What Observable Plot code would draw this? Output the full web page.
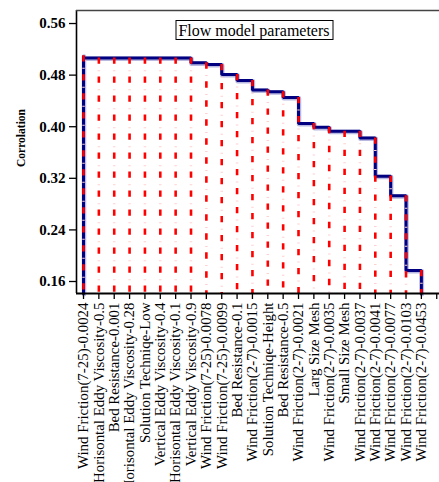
<!DOCTYPE html>
<html>
<head>
<meta charset="utf-8">
<script src="https://cdn.jsdelivr.net/npm/d3@7"></script>
<script src="https://cdn.jsdelivr.net/npm/@observablehq/plot@0.6"></script>
<style>
  html, body { margin: 0; padding: 0; background: #fff; }
  #chart { position: relative; width: 439px; height: 482px; overflow: hidden; }
</style>
</head>
<body>
<div id="chart"></div>
<script>
const categories = [
  "Wind Friction(7-25)-0.0024",
  "Horisontal Eddy Viscosity-0.5",
  "Bed Resistance-0.001",
  "Horisontal Eddy Viscosity-0.28",
  "Solution Techniqe-Low",
  "Vertical Eddy Viscosity-0.4",
  "Horisontal Eddy Viscosity-0.1",
  "Vertical Eddy Viscosity-0.9",
  "Wind Friction(7-25)-0.0078",
  "Wind Friction(7-25)-0.0099",
  "Bed Resistance-0.1",
  "Wind Friction(2-7)-0.0015",
  "Solution Techniqe-Height",
  "Bed Resistance-0.5",
  "Wind Friction(2-7)-0.0021",
  "Larg Size Mesh",
  "Wind Friction(2-7)-0.0035",
  "Small Size Mesh",
  "Wind Friction(2-7)-0.0037",
  "Wind Friction(2-7)-0.0041",
  "Wind Friction(2-7)-0.0077",
  "Wind Friction(2-7)-0.0103",
  "Wind Friction(2-7)-0.0453"
];
const correlation = [
  0.510, 0.5065, 0.5065, 0.5065, 0.5065, 0.5065, 0.5065, 0.5065,
  0.499, 0.4964, 0.481, 0.4716, 0.457, 0.4543, 0.4453, 0.405,
  0.399, 0.393, 0.393, 0.3825, 0.3233, 0.293, 0.177
];
const yTicks = [0.16, 0.24, 0.32, 0.40, 0.48, 0.56];
const xTicks = d3.range(24);
const yDomain = [0.1414, 0.5802];
const xDomain = [-0.456, 23.18];
const title = "Flow model parameters";
const yLabel = "Corrolation";

const base = yDomain[0];
const rows = categories.map((c, i) => ({i, c, v: correlation[i]}));
const stepLine = [{i: 0, v: base}, ...rows, {i: rows.length - 1, v: base}];

const serif = "'Liberation Serif', 'Times New Roman', serif";

const plot = Plot.plot({
  width: 439,
  height: 482,
  marginTop: 10,
  marginBottom: 189,
  marginLeft: 76,
  marginRight: 0,
  style: {fontFamily: serif, background: "transparent", overflow: "visible"},
  x: {type: "linear", domain: xDomain},
  y: {type: "linear", domain: yDomain},
  marks: [
    Plot.line(stepLine, {x: "i", y: "v", curve: "step-before", stroke: "#b8b8e0", strokeWidth: 4.5, dx: 0.5, dy: 0.8}),
    Plot.line(stepLine, {x: "i", y: "v", curve: "step-before", stroke: "#000080", strokeWidth: 3, strokeLinejoin: "miter"}),
    Plot.ruleX(rows, {x: "i", y1: "v", y2: base, stroke: "#ffd0d0", strokeWidth: 2.5, strokeDasharray: "0,12.6,1,5.4"}),
    Plot.ruleX(rows, {x: "i", y1: "v", y2: base, stroke: "#ff0000", strokeWidth: 2.6, strokeDasharray: "6.3,12.7"}),
    Plot.ruleX([xDomain[0]], {stroke: "#000", strokeWidth: 1.6}),
    Plot.ruleY([yDomain[1]], {stroke: "#444", strokeWidth: 1.6}),
    Plot.ruleY([yDomain[0]], {stroke: "#000", strokeWidth: 1.8}),
    Plot.axisY({
      ticks: yTicks,
      tickFormat: d3.format(".2f"),
      tickSize: 7,
      tickPadding: 4,
      fontSize: 15,
      fontWeight: "bold",
      label: null,
      stroke: "#000",
      strokeWidth: 1.3
    }),
    Plot.axisX({
      ticks: xTicks,
      tickFormat: i => categories[i] ?? "",
      tickRotate: -90,
      tickSize: 6,
      tickPadding: 3,
      fontSize: 14.9,
      label: null,
      stroke: "#000",
      strokeWidth: 1.3
    })
  ]
});

document.getElementById("chart").appendChild(plot);

const svg = d3.select(plot);
svg.selectAll("text").attr("fill", "#000");

// title box
const tg = svg.append("g");
tg.append("rect")
  .attr("x", 176).attr("y", 20.5)
  .attr("width", 157).attr("height", 19)
  .attr("fill", "#fff")
  .attr("stroke", "#000")
  .attr("stroke-width", 1);
tg.append("text")
  .attr("x", 254).attr("y", 35.5)
  .attr("text-anchor", "middle")
  .attr("font-family", serif)
  .attr("font-size", 16)
  .attr("fill", "#000")
  .text(title);

// y label
svg.append("text")
  .attr("transform", "translate(25,138) rotate(-90)")
  .attr("text-anchor", "middle")
  .attr("font-family", serif)
  .attr("font-size", 11.5)
  .attr("font-weight", "bold")
  .attr("fill", "#000")
  .text(yLabel);
</script>
</body>
</html>
